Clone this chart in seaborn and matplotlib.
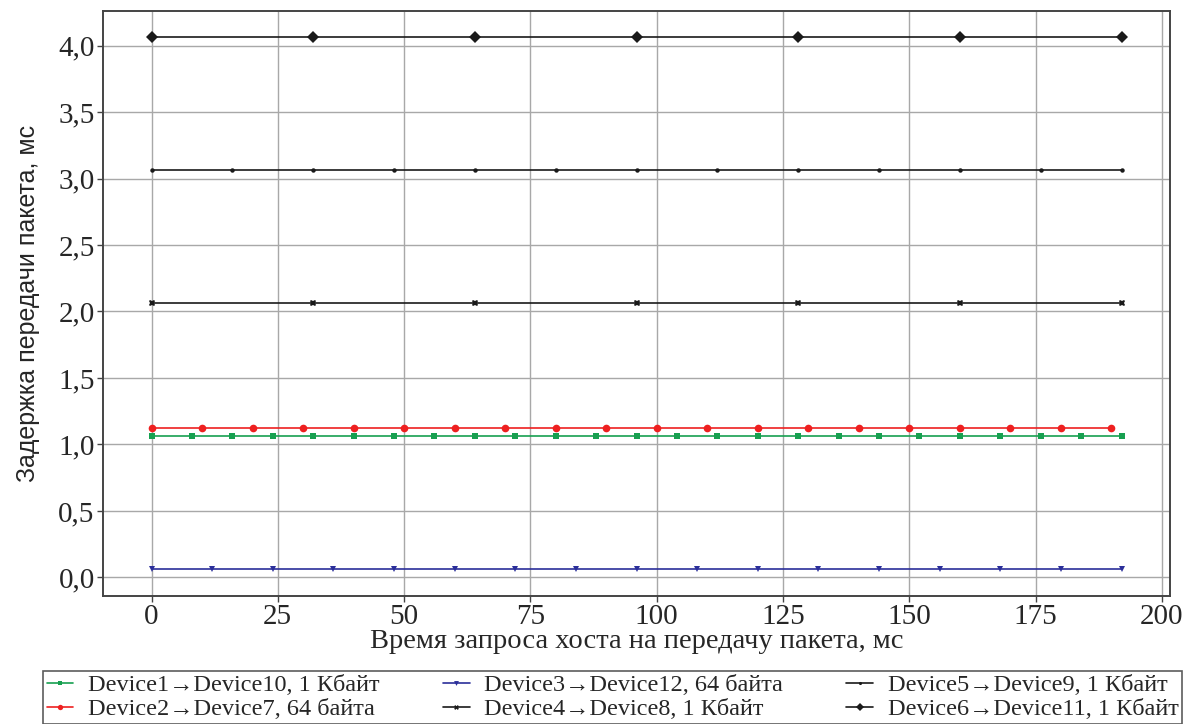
import numpy as np
import pandas as pd
import matplotlib
matplotlib.use("Agg")
import matplotlib.pyplot as plt
import seaborn as sns

# ---- data ----
labels = [
    "Device1→Device10, 1 Кбайт",
    "Device2→Device7, 64 байта",
    "Device3→Device12, 64 байта",
    "Device4→Device8, 1 Кбайт",
    "Device5→Device9, 1 Кбайт",
    "Device6→Device11, 1 Кбайт",
]
x_d1 = list(range(0, 193, 8))
x_d2 = list(range(0, 191, 10))
x_d3 = list(range(0, 193, 12))
x_d4 = list(range(0, 193, 32))
x_d5 = list(range(0, 193, 16))
x_d6 = list(range(0, 193, 32))
delay_d1 = 1.066
delay_d2 = 1.126
delay_d3 = 0.066
delay_d4 = 2.066
delay_d5 = 3.066
delay_d6 = 4.066
xs = [x_d1, x_d2, x_d3, x_d4, x_d5, x_d6]
ys = [delay_d1, delay_d2, delay_d3, delay_d4, delay_d5, delay_d6]
x_ticks = [0, 25, 50, 75, 100, 125, 150, 175, 200]
y_ticks = [0.0, 0.5, 1.0, 1.5, 2.0, 2.5, 3.0, 3.5, 4.0]

rows = []
for lab, xv, yv in zip(labels, xs, ys):
    for x in xv:
        rows.append({"series": lab, "t": x, "d": yv})
df = pd.DataFrame(rows)

colors = ["#17a050", "#ee2020", "#2b2f9a", "#1a1a1a", "#1a1a1a", "#1a1a1a"]
markers = ["s", "o", "v", "X", "o", "D"]
msizes = [5, 5.5, 5, 5, 3.2, 6]

sns.set_theme(style="white")
plt.rcParams["font.family"] = ["Liberation Serif", "DejaVu Serif"]

fig = plt.figure(figsize=(11.84, 7.24), dpi=100)
ax = fig.add_axes([103 / 1184, 1 - 596 / 724, (1170 - 103) / 1184, (596 - 11) / 724])

for lab, c, m, ms in zip(labels, colors, markers, msizes):
    sub = df[df["series"] == lab]
    sns.lineplot(data=sub, x="t", y="d", ax=ax, color=c, marker=m, markersize=ms,
                 markeredgewidth=0, linewidth=1.2, label=lab, legend=False)

ax.set_xlim(-9.6, 201.6)
ax.set_ylim(-0.14, 4.26)
ax.set_xticks(x_ticks)
ax.set_yticks(y_ticks)
ax.set_yticklabels([f"{v:.1f}".replace(".", ",") for v in y_ticks])
ax.grid(True, color="#a8a8a8", linewidth=1.0)
ax.set_axisbelow(True)
for s in ax.spines.values():
    s.set_color("#444444")
    s.set_linewidth(1.4)
ax.tick_params(axis="both", which="major", labelsize=21, direction="out", length=4,
               width=1, color="#444444", pad=2, bottom=True, left=True)
ax.set_xlabel("Время запроса хоста на передачу пакета, мс", fontsize=20.5, labelpad=-1)
ax.set_ylabel("Задержка передачи пакета, мс", fontsize=18, labelpad=13,
              family=["Liberation Sans", "DejaVu Sans"])

h, l = ax.get_legend_handles_labels()
leg = fig.legend(h, l, loc="lower left", ncol=3, mode="expand",
                 bbox_to_anchor=(43 / 1184, 0.0, (1182 - 43) / 1184, 64 / 724),
                 fontsize=17.5, frameon=True, fancybox=False, edgecolor="#333333",
                 handlelength=1.1, handletextpad=0.6, borderpad=0.15, labelspacing=0.08,
                 markerscale=0.7, borderaxespad=0, columnspacing=1.0)
leg.get_frame().set_linewidth(1.2)

fig.savefig("out.png", dpi=100)
